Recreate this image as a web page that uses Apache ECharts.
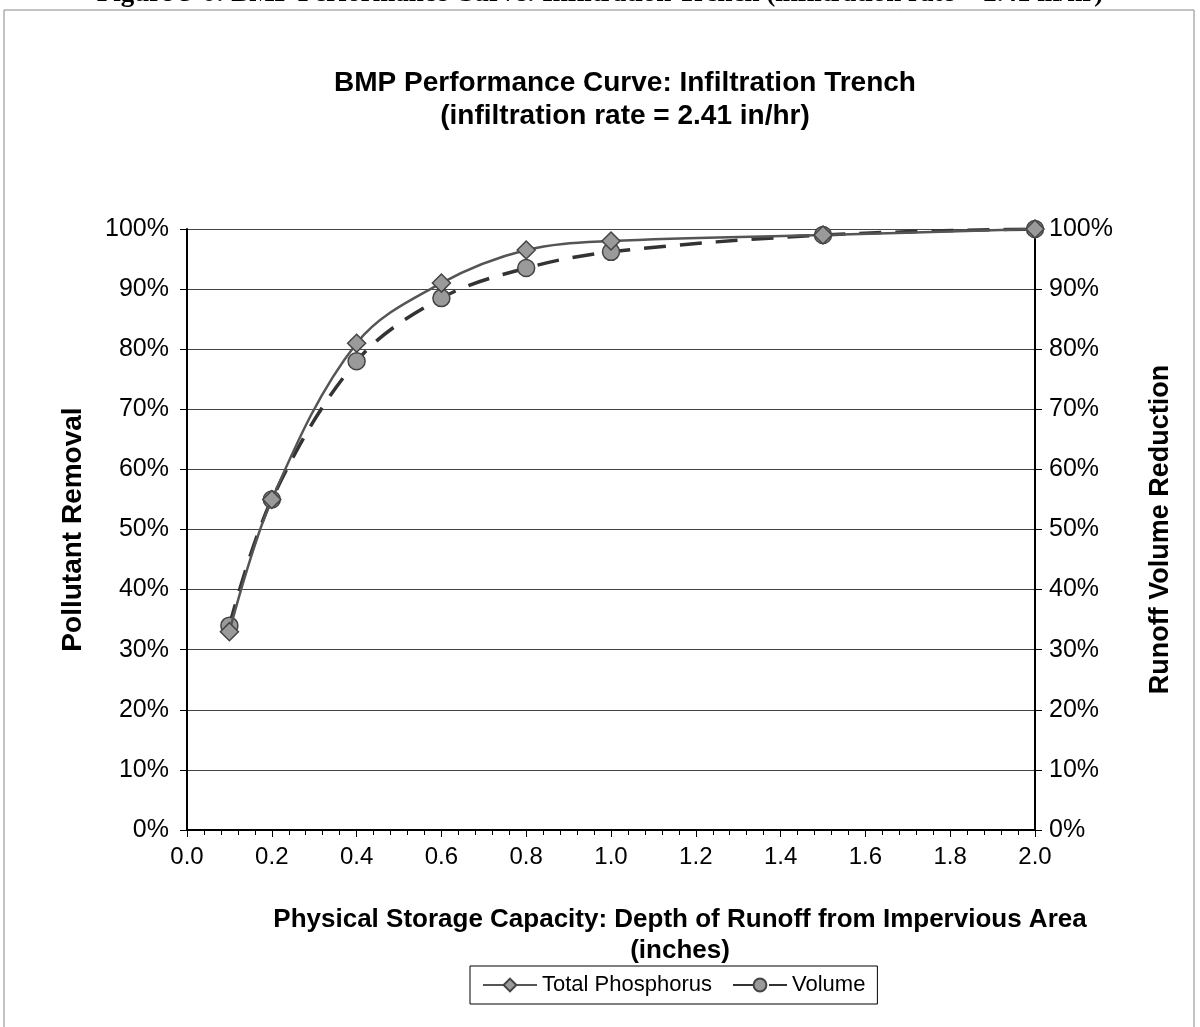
<!DOCTYPE html>
<html>
<head>
<meta charset="utf-8">
<script src="https://cdn.jsdelivr.net/npm/echarts@6/dist/echarts.min.js"></script>
<style>
  html, body { margin: 0; padding: 0; background: #fff; }
  #chart { width: 1200px; height: 1027px; }
</style>
</head>
<body>
<div id="chart"></div>
<script>
// depth of runoff (inches)
const depths = [0.1, 0.2, 0.4, 0.6, 0.8, 1.0, 1.5, 2.0];
// pollutant removal (fraction)
const totalPhosphorus = [0.33, 0.55, 0.81, 0.91, 0.965, 0.98, 0.99, 1.0];
// runoff volume reduction (fraction)
const volume = [0.34, 0.55, 0.78, 0.885, 0.935, 0.962, 0.99, 1.0];

const xTicks = ['0.0', '0.2', '0.4', '0.6', '0.8', '1.0', '1.2', '1.4', '1.6', '1.8', '2.0'];

const chart = echarts.init(document.getElementById('chart'));

const font = 'Liberation Sans, Arial, sans-serif';
const pct = v => Math.round(v * 100) + '%';

const option = {
  backgroundColor: '#ffffff',
  animation: false,
  textStyle: { fontFamily: font, color: '#000' },
  graphic: [
    {
      type: 'rect',
      shape: { x: 4, y: 10, width: 1190, height: 1030 },
      style: { fill: 'none', stroke: '#888', lineWidth: 1 }
    },
    // caption of the figure, cut off at the top edge of the scan
    {
      type: 'text',
      left: 'center',
      top: -19,
      style: {
        text: 'Figure 5-6: BMP Performance Curve: Infiltration Trench (infiltration rate = 2.41 in/hr)',
        font: 'bold 27px "Liberation Serif", serif',
        fill: '#000'
      }
    }
  ],
  title: [
    {
      text: 'BMP Performance Curve: Infiltration Trench\n(infiltration rate = 2.41 in/hr)',
      left: 620,
      top: 62,
      textAlign: 'center',
      textStyle: { fontFamily: font, fontSize: 28, fontWeight: 'bold', lineHeight: 33, color: '#000' }
    },
    {
      text: 'Physical Storage Capacity: Depth of Runoff from Impervious Area\n(inches)',
      left: 675,
      top: 899,
      textAlign: 'center',
      textStyle: { fontFamily: font, fontSize: 26, fontWeight: 'bold', lineHeight: 31, color: '#000' }
    }
  ],
  legend: {
    data: ['Total Phosphorus', 'Volume'],
    left: 470,
    top: 966,
    orient: 'horizontal',
    borderColor: '#000',
    borderWidth: 1,
    padding: [8, 12, 8, 12],
    itemGap: 20,
    itemWidth: 54,
    itemHeight: 16,
    textStyle: { fontFamily: font, fontSize: 22, color: '#000' }
  },
  grid: { left: 187, right: 165, top: 229, bottom: 197 },
  xAxis: {
    type: 'value',
    min: 0,
    max: 2,
    interval: 0.2,
    axisLine: { lineStyle: { color: '#000', width: 2 } },
    axisTick: { length: 7, lineStyle: { color: '#000' } },
    minorTick: { show: true, splitNumber: 5, length: 5, lineStyle: { color: '#000' } },
    splitLine: { show: false },
    axisLabel: {
      fontSize: 24,
      color: '#000',
      margin: 15,
      formatter: v => xTicks[Math.round(v / 0.2)]
    }
  },
  yAxis: [
    {
      type: 'value',
      min: 0,
      max: 1,
      interval: 0.1,
      name: 'Pollutant Removal',
      nameLocation: 'middle',
      nameRotate: 90,
      nameGap: 100,
      nameTextStyle: { fontFamily: font, fontSize: 28, fontWeight: 'bold', color: '#000' },
      axisLine: { show: true, lineStyle: { color: '#000', width: 2 } },
      axisTick: { show: true, length: 7, lineStyle: { color: '#000' } },
      axisLabel: { fontSize: 25, color: '#000', margin: 18, formatter: pct },
      splitLine: { show: true, lineStyle: { color: '#444', width: 1 } }
    },
    {
      type: 'value',
      min: 0,
      max: 1,
      interval: 0.1,
      position: 'right',
      name: 'Runoff Volume Reduction',
      nameLocation: 'middle',
      nameRotate: 90,
      nameGap: 112,
      nameTextStyle: { fontFamily: font, fontSize: 27, fontWeight: 'bold', color: '#000' },
      axisLine: { show: true, lineStyle: { color: '#000', width: 2 } },
      axisTick: { show: true, length: 7, lineStyle: { color: '#000' } },
      axisLabel: { fontSize: 25, color: '#000', margin: 14, formatter: pct },
      splitLine: { show: false }
    }
  ],
  series: [
    {
      name: 'Total Phosphorus',
      type: 'line',
      yAxisIndex: 0,
      data: depths.map((d, i) => [d, totalPhosphorus[i]]),
      smooth: 0.35,
      symbol: 'diamond',
      symbolSize: 18,
      itemStyle: { color: '#9a9a9a', borderColor: '#444', borderWidth: 1.5 },
      lineStyle: { color: '#555', width: 2.5 },
      z: 3
    },
    {
      name: 'Volume',
      type: 'line',
      yAxisIndex: 1,
      data: depths.map((d, i) => [d, volume[i]]),
      smooth: 0.35,
      symbol: 'circle',
      symbolSize: 17,
      itemStyle: { color: '#9a9a9a', borderColor: '#444', borderWidth: 1.5 },
      lineStyle: { color: '#333', width: 3.5, type: [22, 14] },
      z: 2
    }
  ]
};

chart.setOption(option);
</script>
</body>
</html>
